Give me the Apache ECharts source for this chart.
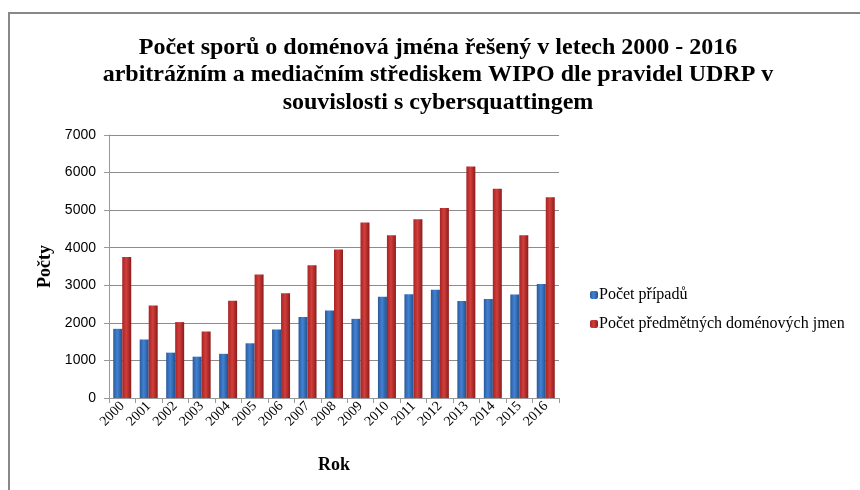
<!DOCTYPE html>
<html>
<head>
  <meta charset="utf-8">
  <title>WIPO UDRP</title>
  <script src="https://cdn.jsdelivr.net/npm/echarts@6/dist/echarts.min.js"></script>
  <style>
    html, body { margin: 0; padding: 0; background: #fff; }
    #main { width: 860px; height: 490px; }
  </style>
</head>
<body>
  <div id="main"></div>
  <script type="text/javascript">
    var years = ['2000', '2001', '2002', '2003', '2004', '2005', '2006', '2007', '2008',
      '2009', '2010', '2011', '2012', '2013', '2014', '2015', '2016'];
    var pripady = [1841, 1557, 1207, 1100, 1176, 1456, 1824, 2156, 2329,
      2107, 2696, 2764, 2884, 2585, 2634, 2754, 3036];
    var domeny = [3750, 2460, 2020, 1770, 2590, 3290, 2790, 3530, 3950,
      4670, 4330, 4760, 5060, 6160, 5570, 4330, 5340];

    var serif = '"Liberation Serif", "Times New Roman", serif';
    var sans = '"Liberation Sans", Arial, sans-serif';

    function grad(edge, mid, edge2) {
      return new echarts.graphic.LinearGradient(0, 0, 1, 0, [
        { offset: 0, color: edge },
        { offset: 0.45, color: mid },
        { offset: 1, color: edge2 }
      ]);
    }

    var myChart = echarts.init(document.getElementById('main'));

    var option = {
      animation: false,
      title: {
        text: 'Počet sporů o doménová jména řešený v letech 2000 - 2016\narbitrážním a mediačním střediskem WIPO dle pravidel UDRP v\nsouvislosti s cybersquattingem',
        left: 433,
        textAlign: 'center',
        top: 29,
        textStyle: {
          fontFamily: serif,
          fontSize: 24,
          fontWeight: 'bold',
          color: '#000',
          lineHeight: 27.5
        }
      },
      graphic: [{
        type: 'rect',
        shape: { x: 9, y: 13, width: 900, height: 500 },
        style: { fill: 'none', stroke: '#888', lineWidth: 2 }
      }],
      legend: {
        orient: 'vertical',
        left: 585,
        top: 282,
        itemWidth: 8,
        itemHeight: 8,
        itemGap: 13,
        textStyle: { fontFamily: serif, fontSize: 16, color: '#000', padding: [0, 0, 0, -4] },
        data: ['Počet případů', 'Počet předmětných doménových jmen']
      },
      grid: {
        left: 109,
        right: 301,
        top: 135,
        bottom: 92
      },
      xAxis: {
        type: 'category',
        data: years,
        name: 'Rok',
        nameLocation: 'middle',
        nameGap: 58,
        nameTextStyle: { fontFamily: serif, fontSize: 18, fontWeight: 'bold', color: '#000' },
        axisLine: { lineStyle: { color: '#999' } },
        axisTick: { show: true, length: 5, lineStyle: { color: '#999' } },
        axisLabel: {
          rotate: 45,
          interval: 0,
          fontFamily: serif,
          fontSize: 14,
          color: '#000',
          margin: 6
        }
      },
      yAxis: {
        type: 'value',
        min: 0,
        max: 7000,
        interval: 1000,
        name: 'Počty',
        nameLocation: 'middle',
        nameGap: 55,
        nameTextStyle: { fontFamily: serif, fontSize: 18, fontWeight: 'bold', color: '#000' },
        axisLine: { show: true, lineStyle: { color: '#999' } },
        axisTick: { show: true, length: 5, lineStyle: { color: '#999' } },
        axisLabel: {
          fontFamily: sans, fontSize: 14, color: '#000', margin: 13,
          formatter: function (v) { return String(v); }
        },
        splitLine: { lineStyle: { color: '#8c8c8c' } }
      },
      series: [{
        name: 'Počet případů',
        type: 'bar',
        data: pripady,
        barWidth: 9,
        barGap: '0%',
        itemStyle: {
          color: grad('#2a5a9c', '#4282d4', '#24518c')
        }
      }, {
        name: 'Počet předmětných doménových jmen',
        type: 'bar',
        data: domeny,
        barWidth: 9,
        barGap: '0%',
        itemStyle: {
          color: grad('#a62424', '#d23e3b', '#8a1c1c')
        }
      }]
    };

    myChart.setOption(option);
  </script>
</body>
</html>
